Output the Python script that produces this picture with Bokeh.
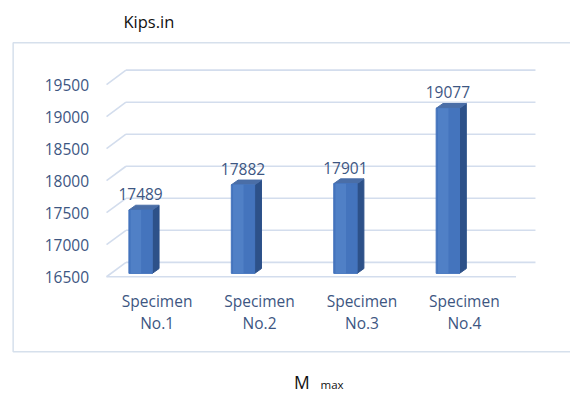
from bokeh.plotting import figure
from bokeh.models import Range1d
from bokeh.embed import file_html
from bokeh.resources import INLINE
from bokeh.core.properties import value

# ---- data ----
categories = ["Specimen No.1", "Specimen No.2", "Specimen No.3", "Specimen No.4"]
moments = [17489, 17882, 17901, 19077]
y_ticks = [16500, 17000, 17500, 18000, 18500, 19000, 19500]
y_unit_title = "Kips.in"
x_title_main = "M"
x_title_sub = "max"

# ---- layout constants ----
W, H = 570, 393
REF_W, REF_H = 586, 409
PX = 105.3            # reference pixels per category step
VPP = 15.0            # value units per reference pixel
FONT = value("Open Sans")
TXT = "#3d5682"
GRID = "#d3dded"

base = y_ticks[0]
x_start = 1 - 144 / PX
x_end = x_start + REF_W / PX
y_end = base + 287.5 * VPP
y_start = y_end - REF_H * VPP


def xp(ref_x):
    return 1 + (ref_x - 144) / PX


def yp(ref_y):
    return base + (287.5 - ref_y) * VPP


p = figure(width=W, height=H, output_backend="svg", toolbar_location=None,
           x_range=Range1d(x_start, x_end), y_range=Range1d(y_start, y_end),
           min_border=0, min_border_left=0, min_border_right=0,
           min_border_top=0, min_border_bottom=0)
p.axis.visible = False
p.grid.visible = False
p.outline_line_color = None
p.background_fill_color = "white"
p.border_fill_color = "white"

# outer chart frame
p.quad(left=[xp(13)], right=[xp(620)], top=[yp(44)], bottom=[yp(365.5)],
       fill_color=None, line_color="#d6e0ec", line_width=1.5)

# 3-D wall gridlines
wall_dx = 20 / PX
wall_dy = 15 * VPP
front_left = xp(109)
back_left = front_left + wall_dx
right_end = xp(550)
p.segment(x0=[back_left] * len(y_ticks), y0=[t + wall_dy for t in y_ticks],
          x1=[right_end] * len(y_ticks), y1=[t + wall_dy for t in y_ticks],
          line_color=GRID, line_width=1.6)
p.segment(x0=[front_left] * len(y_ticks), y0=y_ticks,
          x1=[back_left] * len(y_ticks), y1=[t + wall_dy for t in y_ticks],
          line_color=GRID, line_width=1.6)
# floor front edge
p.segment(x0=[front_left], y0=[base], x1=[xp(530)], y1=[base],
          line_color=GRID, line_width=1.6)

# y tick labels
p.text(x=[xp(91)] * len(y_ticks), y=y_ticks, text=[str(t) for t in y_ticks],
       text_align="right", text_baseline="middle", text_font=FONT,
       text_font_size="15.5px", text_color=TXT)

# bars (3-D columns)
xs = [i + 1 for i in range(len(moments))]
bw = 24 / PX
shift = 3.5 * VPP
bdx = 7 / PX
bdy = 5 * VPP
bottoms = [base + shift] * len(moments)
tops = [m + shift for m in moments]

side_xs, side_ys, top_xs, top_ys = [], [], [], []
for x, b, t in zip(xs, bottoms, tops):
    l, r = x - bw / 2, x + bw / 2
    side_xs.append([r, r + bdx, r + bdx, r])
    side_ys.append([b, b + bdy, t + bdy, t])
    top_xs.append([l, r, r + bdx, l + bdx])
    top_ys.append([t, t, t + bdy, t + bdy])

p.patches(xs=side_xs, ys=side_ys, fill_color="#2d5189", line_color="#2d5189")
p.patches(xs=top_xs, ys=top_ys, fill_color="#4a6ea7", line_color="#4a6ea7")
p.vbar(x=xs, width=bw, bottom=bottoms, top=tops,
       fill_color="#4474bd", line_color="#4474bd")
# lighter left part for a hint of gradient
p.vbar(x=[x - bw * 0.2 for x in xs], width=bw * 0.45, bottom=bottoms, top=tops,
       fill_color="#5080c6", line_color=None)

# value labels
p.text(x=xs, y=[t + 20 * VPP for t in moments], text=[str(m) for m in moments],
       text_align="center", text_baseline="middle", text_font=FONT,
       text_font_size="15.5px", text_color=TXT)

# category labels (two lines)
lab_dx = 17 / PX
line1 = [c.split(" ")[0] for c in categories]
line2 = [c.split(" ")[1] for c in categories]
p.text(x=[x + lab_dx for x in xs], y=[yp(313)] * len(xs), text=line1,
       text_align="center", text_baseline="middle", text_font=FONT,
       text_font_size="15.5px", text_color=TXT)
p.text(x=[x + lab_dx for x in xs], y=[yp(336)] * len(xs), text=line2,
       text_align="center", text_baseline="middle", text_font=FONT,
       text_font_size="15.5px", text_color=TXT)

# unit title and axis title
p.text(x=[xp(152.5)], y=[yp(22)], text=[y_unit_title], text_align="center",
       text_baseline="middle", text_font=FONT, text_font_size="16.5px",
       text_color="#111111")
p.text(x=[xp(318)], y=[yp(397)], text=[x_title_main], text_align="right",
       text_baseline="middle", text_font=FONT, text_font_size="17.5px",
       text_color="#111111")
p.text(x=[xp(329)], y=[yp(400)], text=[x_title_sub], text_align="left",
       text_baseline="middle", text_font=FONT, text_font_size="11.5px",
       text_color="#111111")

open("out.html", "w").write(file_html(p, INLINE))
